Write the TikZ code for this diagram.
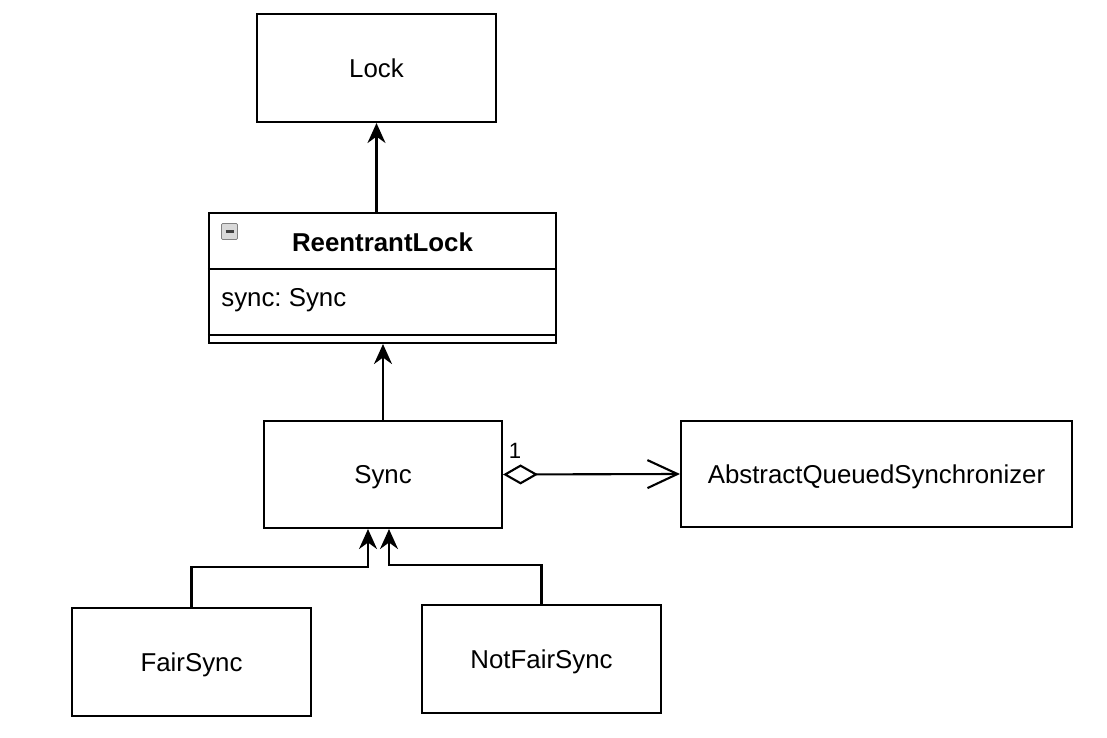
\documentclass[tikz,border=0pt]{standalone}
\usepackage{fontspec}
\setmainfont{Liberation Sans}
\usetikzlibrary{arrows.meta,calc}
\frenchspacing

\begin{document}
\begin{tikzpicture}[
  font=\fontsize{14.7}{17}\selectfont,
  cls/.style={draw, line width=1.2pt, minimum width=4.78cm, minimum height=2.16cm, text height=11.6pt, text depth=1pt},
  inh/.style={line width=1.2pt, -{Stealth[length=4mm,width=3.6mm,inset=1.3mm]}},
  agg/.style={line width=1.2pt, {Diamond[open,length=7mm,width=4mm]}-{Straight Barb[length=6mm,width=5.6mm]}}
]
\useasboundingbox (0,0) rectangle (22.14,-14.76);

\node[cls] (lock) at (7.53,-1.36) {Lock};
\node[cls, minimum width=6.94cm, minimum height=2.60cm] (rl) at (7.65,-5.56) {};
\node[anchor=base, font=\fontsize{14.7}{17}\selectfont\bfseries] (rltitle) at (7.65,-5.03) {ReentrantLock};
\node[anchor=base west, inner sep=0pt] (rlattr) at (4.42,-6.14) {sync: Sync};
\draw[line width=1.2pt] (rl.west |- 0,-5.38) -- (rl.east |- 0,-5.38);
\draw[line width=1.2pt] (rl.west |- 0,-6.70) -- (rl.east |- 0,-6.70);
\draw[gray, fill=gray!30, rounded corners=0.6pt] (4.43,-4.47) rectangle (4.75,-4.79);
\draw[black!75, line width=1.4pt] (4.51,-4.63) -- (4.67,-4.63);

\node[cls, minimum width=4.76cm, minimum height=2.14cm] (sync) at (7.66,-9.49) {Sync};
\node[cls, minimum width=7.82cm, minimum height=2.12cm] (aqs) at (17.53,-9.48) {AbstractQueuedSynchronizer};
\node[cls] (fair) at (3.83,-13.24) {FairSync};
\node[cls] (nfair) at (10.83,-13.18) {NotFairSync};

\draw[inh] (rl.north -| lock.south) -- (lock.south);
\draw[inh] (sync.north) -- (sync.north |- rl.south);
\draw[inh] (fair.north) -- ++(0,0.8) -| ([xshift=-3mm]sync.south);
\draw[inh] (nfair.north) -- ++(0,0.78) -| ([xshift=1.2mm]sync.south);
\draw[agg] (sync.east) -- (aqs.west);
\node[anchor=base, font=\fontsize{12.6}{15}\selectfont] (one) at ([xshift=2.4mm,yshift=3.3mm]sync.east) {1};
\end{tikzpicture}
\end{document}
